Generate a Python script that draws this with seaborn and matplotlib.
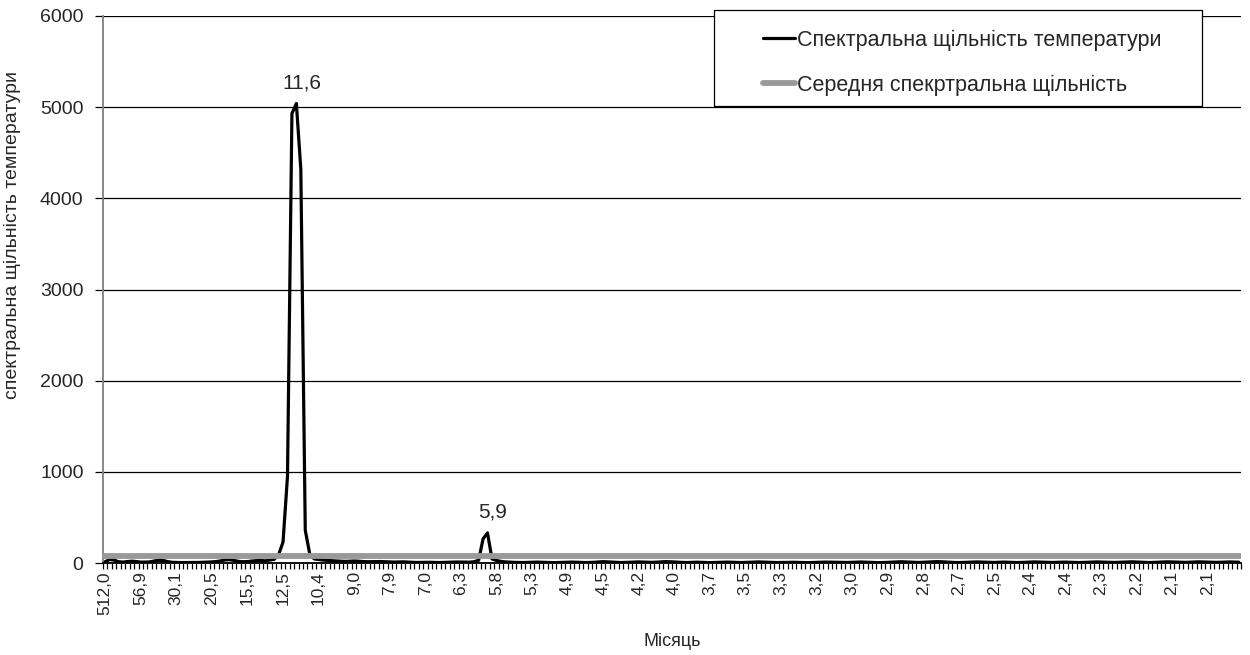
import numpy as np
import pandas as pd
import matplotlib
matplotlib.use("Agg")
import matplotlib.pyplot as plt
from matplotlib.lines import Line2D
from matplotlib.patches import Rectangle
import seaborn as sns

# ---------------- data ----------------
spectral_density = [
    15, 38, 32, 14, 10, 16, 20, 16, 10, 10, 12, 22, 30, 28, 16, 8,
    6, 5, 5, 4, 5, 6, 8, 10, 12, 16, 24, 34, 36, 28, 18, 14,
    16, 22, 26, 28, 24, 32, 40, 90, 230, 950, 4930, 5040, 4320, 360, 100, 45,
    38, 32, 28, 25, 22, 20, 18, 20, 22, 20, 16, 14, 15, 17, 16, 14,
    12, 10, 11, 13, 10, 8, 6, 7, 9, 8, 6, 5, 6, 8, 10, 11,
    10, 8, 9, 14, 30, 265, 330, 45, 28, 18, 12, 9, 7, 6, 5, 6,
    8, 10, 9, 7, 5, 4, 5, 7, 9, 10, 8, 6, 5, 6, 8, 12,
    15, 13, 10, 7, 5, 6, 8, 10, 12, 10, 8, 7, 9, 12, 15, 14,
    11, 8, 6, 5, 7, 9, 8, 6, 4, 5, 7, 9, 10, 8, 6, 5,
    6, 8, 10, 12, 10, 8, 6, 5, 6, 8, 9, 8, 6, 5, 4, 5,
    7, 9, 10, 9, 7, 6, 5, 6, 8, 10, 11, 9, 7, 5, 4, 5,
    7, 9, 12, 14, 12, 9, 7, 6, 8, 10, 12, 15, 14, 11, 8, 6,
    5, 6, 8, 10, 12, 11, 9, 7, 6, 8, 10, 9, 7, 5, 6, 8,
    10, 12, 11, 9, 7, 6, 7, 9, 10, 8, 6, 5, 6, 8, 10, 12,
    11, 9, 7, 6, 8, 10, 12, 13, 11, 8, 6, 5, 7, 9, 11, 13,
    12, 10, 8, 7, 9, 11, 13, 12, 10, 8, 7, 8, 10, 12, 11, 9,
]
mean_density = 75
tick_labels = ["512,0", "56,9", "30,1", "20,5", "15,5", "12,5", "10,4", "9,0",
               "7,9", "7,0", "6,3", "5,8", "5,3", "4,9", "4,5", "4,2",
               "4,0", "3,7", "3,5", "3,3", "3,2", "3,0", "2,9", "2,8",
               "2,7", "2,5", "2,4", "2,4", "2,3", "2,2", "2,1", "2,1"]
tick_step = 8
peak_index = [43, 86]
peak_labels = ["11,6", "5,9"]
series_names = ["Спектральна щільність температури", "Середня спекртральна щільність"]
y_label = "спектральна щільність температури"
x_label = "Місяць"

# ---------------- style ----------------
sns.set_style("white")
plt.rcParams["font.family"] = ["Liberation Sans", "DejaVu Sans"]

W, H = 1250, 655
fig = plt.figure(figsize=(W / 100, H / 100), dpi=100)
L, R, T, B = 103, 1241, 16, 563
ax = fig.add_axes([L / W, 1 - B / H, (R - L) / W, (B - T) / H])

n = len(spectral_density)
df = pd.DataFrame({"idx": np.arange(n), "val": spectral_density})

sns.lineplot(data=df, x="idx", y="val", ax=ax, color="black", lw=2.3, zorder=3)
ax.axhline(mean_density, color="#999999", lw=4.2, zorder=4, solid_capstyle="butt")

ax.set_xlim(-0.5, n - 0.5)
ax.set_ylim(0, 6000)
ax.set_yticks(np.arange(0, 6001, 1000))
ax.yaxis.grid(True, color="black", lw=0.9)
ax.set_axisbelow(True)

major = np.arange(0, len(tick_labels) * tick_step, tick_step)
ax.set_xticks(major)
ax.set_xticklabels(tick_labels, rotation=90, fontsize=12.5)
ax.set_xticks(np.arange(-0.5, n, 1.0), minor=True)
ax.tick_params(axis="x", which="major", length=0, pad=6)
ax.tick_params(axis="x", which="minor", length=4, width=0.9, color="black", direction="out", bottom=True)
ax.tick_params(axis="y", which="major", length=6, width=0.9, color="black", direction="out", left=True, pad=8, labelsize=14)

for s in ["top", "right"]:
    ax.spines[s].set_visible(False)
ax.spines["left"].set_color("#808080")
ax.spines["left"].set_linewidth(1.3)
ax.spines["bottom"].set_color("black")
ax.spines["bottom"].set_linewidth(1.3)

ax.set_xlabel("")
ax.set_ylabel("")
fig.text(13 / W, 1 - 235 / H, y_label, rotation=90, ha="center", va="center", fontsize=14)
fig.text(672 / W, 1 - 642 / H, x_label, ha="center", va="center", fontsize=13)

for i, lab in zip(peak_index, peak_labels):
    ax.annotate(lab, xy=(i, spectral_density[i]), xytext=(4, 8), textcoords="offset points",
                ha="center", va="bottom", fontsize=15)

# legend box
rect = Rectangle((714 / W, 1 - 106 / H), (1202 - 714) / W, (106 - 10) / H,
                 transform=fig.transFigure, facecolor="white", edgecolor="black",
                 lw=0.9, zorder=5)
fig.add_artist(rect)
handles = [Line2D([], [], color="black", lw=2.3),
           Line2D([], [], color="#999999", lw=4.2)]
leg = fig.legend(handles, series_names, loc="upper left",
                 bbox_to_anchor=(752 / W, 1 - 19 / H), frameon=False, borderpad=0,
                 labelspacing=1.1, handlelength=1.5, handletextpad=0.1, fontsize=15.5)
leg.set_zorder(6)

fig.savefig("out.png", dpi=100)
